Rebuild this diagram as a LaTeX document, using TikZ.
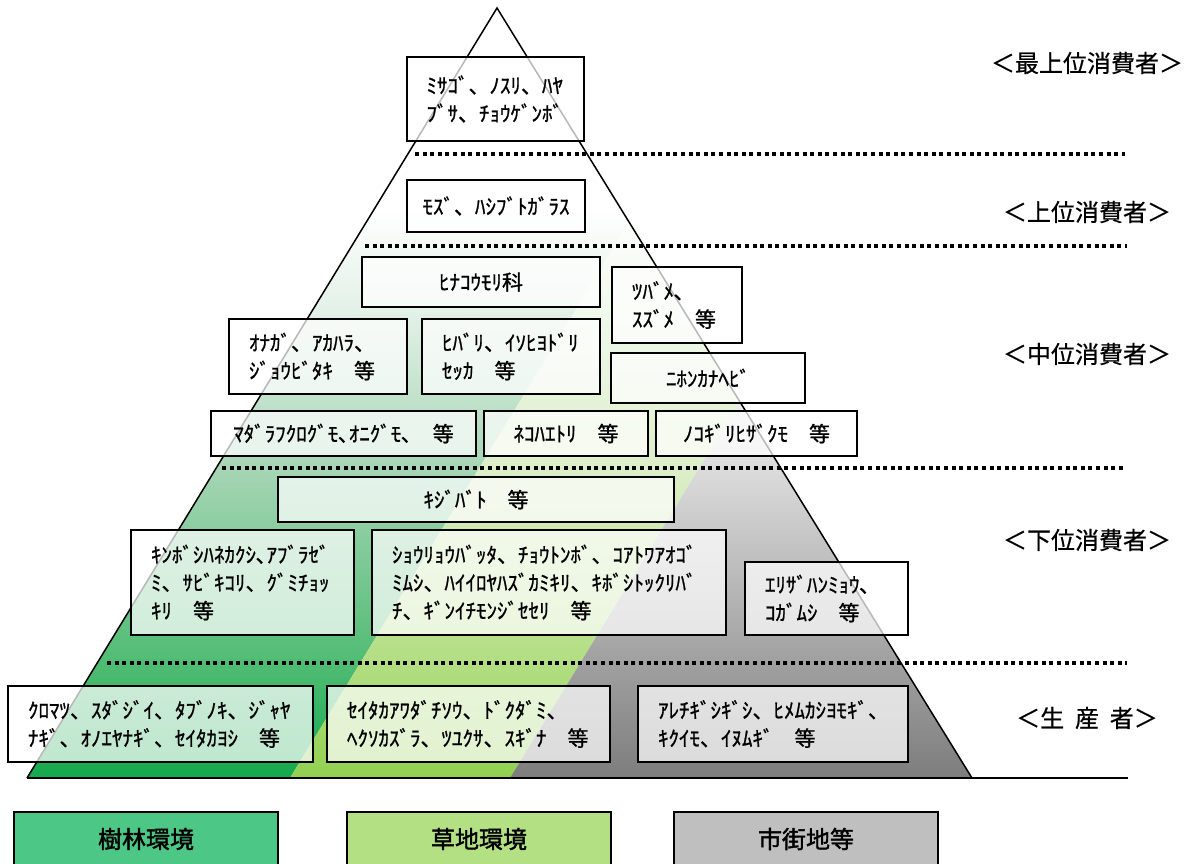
\documentclass[tikz,border=0pt]{standalone}
\usepackage{fontspec}
\setmainfont{Noto Sans CJK JP}
\newfontfamily\boxjp{Noto Sans CJK JP}[FakeBold=1.0]
\newfontfamily\lvljp{Noto Sans CJK JP}[FakeBold=0.6]
\newfontfamily\legjp{Noto Sans CJK JP}[FakeBold=1.6]
\definecolor{gA}{RGB}{20,168,78}
\definecolor{gB}{RGB}{80,188,115}
\definecolor{gC}{RGB}{165,213,180}
\definecolor{gD}{RGB}{225,240,230}
\definecolor{lA}{RGB}{146,208,80}
\definecolor{lB}{RGB}{178,222,130}
\definecolor{lC}{RGB}{220,238,200}
\definecolor{lD}{RGB}{240,248,235}
\definecolor{yA}{RGB}{125,125,125}
\definecolor{yB}{RGB}{160,160,160}
\definecolor{yC}{RGB}{195,195,195}
\definecolor{yD}{RGB}{228,228,228}
\definecolor{legG}{RGB}{77,199,134}
\definecolor{legL}{RGB}{180,224,132}
\definecolor{legY}{RGB}{191,191,191}
\pgfdeclareverticalshading{greenfade}{100bp}{color(0bp)=(gA); color(25bp)=(gA); color(32.5bp)=(gB); color(45bp)=(gC); color(55bp)=(gD); color(62bp)=(white); color(100bp)=(white)}
\pgfdeclareverticalshading{lightfade}{100bp}{color(0bp)=(lA); color(25bp)=(lA); color(32.5bp)=(lB); color(45bp)=(lC); color(55bp)=(lD); color(62bp)=(white); color(100bp)=(white)}
\pgfdeclareverticalshading{grayfade}{100bp}{color(0bp)=(yA); color(25bp)=(yA); color(32.5bp)=(yB); color(40bp)=(yC); color(47bp)=(yD); color(57bp)=(white); color(100bp)=(white)}
\begin{document}
\begin{tikzpicture}[x=1pt,y=-1pt,
  box/.style={draw=black, line width=2pt, fill=white, fill opacity=0.72, text opacity=1, inner sep=0pt, font=\boxjp\fontsize{21}{28}\selectfont},
  lbox/.style={box, align=left},
  cbox/.style={box, align=center},
  dots/.style={line width=4pt, dash pattern=on 4pt off 3.6pt},
  lvl/.style={font=\lvljp\fontsize{24}{28}\selectfont},
  legend/.style={draw=black, line width=2.5pt, minimum width=264pt, minimum height=54pt, font=\legjp\fontsize{24}{28}\selectfont}]
\useasboundingbox (0,0) rectangle (1184,863);
\fill[white] (0,0) rectangle (1184,863);
% shaded regions
\begin{scope}
\clip (497,8) -- (27,778) -- (290,778) -- (629.2,222.3) -- cycle;
\shade[shading=greenfade] (0,8) rectangle (1184,778);
\end{scope}
\begin{scope}
\clip (290,778) -- (510,778) -- (739.8,401.6) -- (629.2,222.3) -- cycle;
\shade[shading=lightfade] (0,8) rectangle (1184,778);
\end{scope}
\begin{scope}
\clip (510,778) -- (972,778) -- (739.8,401.6) -- cycle;
\shade[shading=grayfade] (0,8) rectangle (1184,778);
\end{scope}
% triangle outline and base
\draw[line width=1.5pt, line join=miter] (27,778) -- (497,8) -- (972,778);
\draw[line width=2pt] (27,778) -- (1128,778);
% dotted level lines
\draw[dots] (415,154) -- (1125,154);
\draw[dots] (365,246) -- (1127,246);
\draw[dots] (222,468) -- (1125,468);
\draw[dots] (107,663) -- (1127,663);
% boxes
\node[lbox, minimum width=177pt, minimum height=84pt, text width=138pt] (b1) at (495.5,99) {ﾐｻｺﾞ、ﾉｽﾘ、ﾊﾔ\\ﾌﾞｻ、ﾁｮｳｹﾞﾝﾎﾞ};
\node[cbox, minimum width=178pt, minimum height=52pt] (b2) at (496,206) {ﾓｽﾞ、ﾊｼﾌﾞﾄｶﾞﾗｽ};
\node[cbox, minimum width=238pt, minimum height=50pt] (b3) at (481,282) {ﾋﾅｺｳﾓﾘ科};
\node[lbox, minimum width=130pt, minimum height=76pt, text width=90pt] (b4) at (677,305) {ﾂﾊﾞﾒ､\\ｽｽﾞﾒ　等};
\node[cbox, minimum width=194pt, minimum height=50pt] (b5) at (708,378) {ﾆﾎﾝｶﾅﾍﾋﾞ};
\node[lbox, minimum width=178pt, minimum height=75pt, text width=138pt] (b6) at (318,356.5) {ｵﾅｶﾞ、ｱｶﾊﾗ、\\ｼﾞｮｳﾋﾞﾀｷ　等};
\node[lbox, minimum width=178pt, minimum height=75pt, text width=138pt] (b7) at (511,356.5) {ﾋﾊﾞﾘ、ｲｿﾋﾖﾄﾞﾘ\\ｾｯｶ　等};
\node[cbox, minimum width=265pt, minimum height=45pt] (b8) at (343.5,433.5) {ﾏﾀﾞﾗﾌｸﾛｸﾞﾓ､ｵﾆｸﾞﾓ､　等};
\node[cbox, minimum width=164pt, minimum height=45pt] (b9) at (566,433.5) {ﾈｺﾊｴﾄﾘ　等};
\node[cbox, minimum width=201pt, minimum height=45pt] (b10) at (756.5,433.5) {ﾉｺｷﾞﾘﾋｻﾞｸﾓ　等};
\node[cbox, minimum width=396pt, minimum height=45pt] (b11) at (476,499.5) {ｷｼﾞﾊﾞﾄ　等};
\node[lbox, minimum width=223pt, minimum height=105pt, text width=183pt] (b12) at (242.5,582.5) {ｷﾝﾎﾞｼﾊﾈｶｸｼ､ｱﾌﾞﾗｾﾞ\\ﾐ、ｻﾋﾞｷｺﾘ、ｸﾞﾐﾁｮｯ\\ｷﾘ　等};
\node[lbox, minimum width=354pt, minimum height=105pt, text width=314pt] (b13) at (549,582.5) {ｼｮｳﾘｮｳﾊﾞｯﾀ、ﾁｮｳﾄﾝﾎﾞ、ｺｱﾄﾜｱｵｺﾞ\\ﾐﾑｼ、ﾊｲｲﾛﾔﾊｽﾞｶﾐｷﾘ、ｷﾎﾞｼﾄｯｸﾘﾊﾞ\\ﾁ、ｷﾞﾝｲﾁﾓﾝｼﾞｾｾﾘ　等};
\node[lbox, minimum width=163pt, minimum height=73pt, text width=123pt] (b14) at (826.5,598.5) {ｴﾘｻﾞﾊﾝﾐｮｳ､\\ｺｶﾞﾑｼ　等};
\node[lbox, minimum width=305pt, minimum height=76pt, text width=265pt] (b15) at (160.5,724) {ｸﾛﾏﾂ、ｽﾀﾞｼﾞｲ、ﾀﾌﾞﾉｷ、ｼﾞｬﾔ\\ﾅｷﾞ、ｵﾉｴﾔﾅｷﾞ、ｾｲﾀｶﾖｼ　等};
\node[lbox, minimum width=283pt, minimum height=76pt, text width=243pt] (b16) at (468.5,724) {ｾｲﾀｶｱﾜﾀﾞﾁｿｳ、ﾄﾞｸﾀﾞﾐ、\\ﾍｸｿｶｽﾞﾗ、ﾂﾕｸｻ、ｽｷﾞﾅ　等};
\node[lbox, minimum width=270pt, minimum height=76pt, text width=230pt] (b17) at (773,724) {ｱﾚﾁｷﾞｼｷﾞｼ、ﾋﾒﾑｶｼﾖﾓｷﾞ、\\ｷｸｲﾓ、ｲﾇﾑｷﾞ　等};
% level labels
\node[lvl] (t1) at (1087,63) {＜最上位消費者＞};
\node[lvl] (t2) at (1087,212) {＜上位消費者＞};
\node[lvl] (t3) at (1087,354) {＜中位消費者＞};
\node[lvl] (t4) at (1087,540) {＜下位消費者＞};
\node[lvl] (t5) at (1087,718) {＜生\hspace{0.45em}産\hspace{0.45em}者＞};
% legend
\node[legend, fill=legG] (lg1) at (146,839) {樹林環境};
\node[legend, fill=legL] (lg2) at (479,839) {草地環境};
\node[legend, fill=legY] (lg3) at (806,839) {市街地等};
\end{tikzpicture}
\end{document}
